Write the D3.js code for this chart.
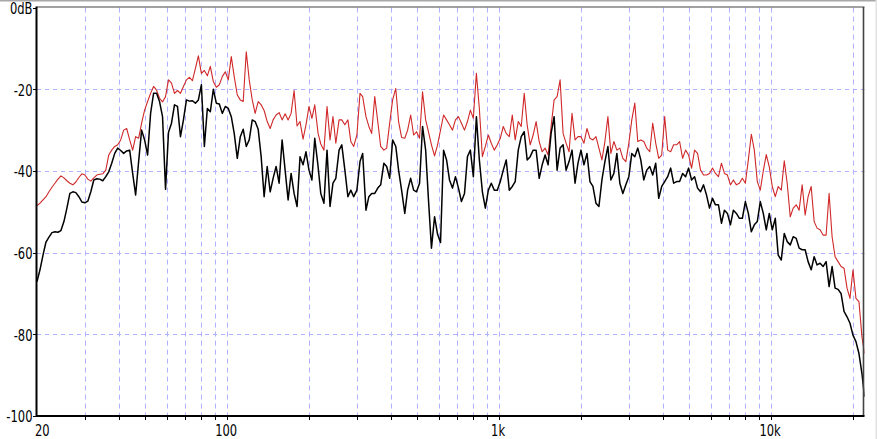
<!DOCTYPE html>
<html><head><meta charset="utf-8">
<script src="https://cdn.jsdelivr.net/npm/d3@7"></script>
<style>html,body{margin:0;padding:0;background:#fff;}svg{display:block;}</style>
</head><body>
<svg id="chart" width="877" height="439"></svg>
<script>
// Frequencies (Hz) of the plotted points
const freqs = [
20,20.51,21.04,21.58,22.13,22.70,23.28,23.88,24.49,25.12,25.76,26.42,27.10,27.79,28.51,29.24,29.99,30.75,31.54,32.35,33.18,34.03,34.90,35.80,36.71,37.65,38.62,39.61,40.62,41.66,42.73,43.83,44.95,46.10,47.28,48.49,49.74,51.01,52.32,53.66,55.03,56.44,57.89,59.37,60.89,62.45,64.05,65.69,67.37,69.10,70.87,72.68,74.55,76.46,78.41,80.42,82.48,84.59,86.76,88.98,91.26,93.60,96.00,98.48,101.0,103.6,106.2,109.0,111.8,114.6,117.6,120.6,123.7,126.8,130.1,133.4,136.8,140.4,144.0,147.6,151.4,155.3,159.3,163.4,167.6,171.9,176.3,180.8,185.4,190.2,195.0,
200,205,210,216,221,227,233,239,245,251,258,264,271,278,285,292,300,308,315,324,332,340,349,358,367,377,386,396,406,417,427,438,450,461,473,485,497,510,523,537,550,564,579,594,609,625,641,657,674,691,709,727,746,765,784,804,825,846,868,890,913,936,960,985,1010,1036,1062,1090,1118,1146,1176,1206,1237,1268,1301,1334,1368,1404,1440,1476,1514,1553,1593,1634,1676,1719,1763,1808,1854,1902,1950,
2000,2051,2104,2158,2213,2270,2328,2388,2449,2512,2576,2642,2710,2779,2851,2924,2999,3075,3154,3235,3318,3403,3490,3580,3671,3765,3862,3961,4062,4166,4273,4383,4495,4610,4728,4849,4974,5101,5232,5366,5503,5644,5789,5937,6089,6245,6405,6569,6737,6910,7087,7268,7455,7646,7841,8042,8248,8459,8676,8898,9126,9360,9600,9848,10100,10360,10620,10900,11180,11460,11760,12060,12370,12680,13010,13340,13680,14040,14400,14760,15140,15530,15930,16340,16760,17190,17630,18080,18540,19020,19500,
20000,20510,21040,21580,22050];

// Red trace (dB)
const redDb = [
-48.5,-47.9,-47.1,-46.3,-45.1,-44.0,-43.0,-42.0,-41.2,-41.7,
-42.4,-43.0,-43.4,-42.7,-41.6,-40.7,-41.0,-42.0,-42.5,-41.7,
-41.0,-40.8,-40.7,-39.8,-36.1,-34.9,-34.0,-33.6,-32.4,-30.0,
-29.6,-32.4,-34.9,-31.6,-32.0,-28.3,-25.1,-23.0,-21.0,-19.3,
-20.2,-22.2,-23.1,-21.8,-17.7,-18.5,-21.0,
-20.3,-21.0,-19.3,-17.7,-17.1,-17.9,-14.9,-11.8,-16.1,-15.4,
-16.7,-14.4,-18.1,-19.5,-18.9,-16.9,-15.7,-17.7,-12.0,-16.9,
-21.4,-22.6,-23.0,-10.8,-17.7,-22.6,-25.9,-23.0,-23.8,-25.2,
-27.9,-29.6,-27.5,-26.3,-25.7,-27.5,-26.0,-27.5,-25.9,-20.3,
-29.0,-27.9,-32.2,-28.7,-24.2,-27.1,
-23.8,-30.8,-33.4,-34.9,-24.2,-32.4,-26.7,-33.2,-27.5,-27.5,
-28.7,-27.5,-32.8,-34.0,-31.2,-21.0,-21.8,-26.7,-29.1,-30.8,
-21.8,-27.9,-34.0,-34.9,-34.4,-28.3,-22.6,-19.8,-27.9,-31.8,
-32.0,-30.0,-26.3,-31.2,-30.4,-32.0,-20.6,-27.5,-30.4,-33.6,
-36.3,-33.6,-30.0,-26.3,-27.5,-28.7,-30.0,
-27.5,-26.7,-28.3,-30.0,-27.9,-25.1,-27.1,-16.1,-24.7,-36.5,
-34.0,-31.2,-33.2,-34.9,-33.6,-32.0,-29.1,-30.8,-31.6,-26.3,
-32.4,-27.9,-29.1,-21.0,-28.7,-33.6,-31.2,-27.9,-32.8,-35.3,
-34.4,-36.1,-29.1,-22.6,-21.8,-17.7,-30.8,-33.2,-35.3,-25.9,
-32.4,-31.6,-31.6,-33.2,-29.6,-32.0,
-32.4,-31.6,-34.4,-37.3,-32.8,-26.7,-35.7,-32.8,-34.9,-34.4,
-36.9,-37.7,-33.2,-27.5,-23.4,-32.8,-32.4,-32.8,-34.4,-35.3,
-28.3,-33.2,-36.9,-36.1,-26.7,-34.9,-35.3,-33.6,-33.6,-32.8,
-36.9,-34.9,-36.1,-39.3,-34.9,-35.7,-39.8,-41.0,-41.0,-40.6,
-39.3,-40.6,-41.4,-38.1,-40.6,-41.0,-43.4,
-42.2,-43.4,-43.0,-41.8,-43.0,-37.3,-31.0,-34.9,-42.6,-44.7,
-40.0,-36.0,-39.0,-43.8,-46.3,-43.8,-44.7,-37.5,-43.0,-51.2,
-49.1,-48.3,-49.6,-43.4,-50.8,-46.3,-43.8,-52.4,-54.0,-54.4,
-55.7,-55.7,-45.5,-56.1,-61.0,-62.2,-63.4,-63.8,-68.7,-71.2,
-64.2,-71.2,-72.0,-80.6,-84.7];

// Black trace (dB)
const blackDb = [
-67.1,-64.2,-60.6,-57.4,-56.2,-55.1,-54.9,-55.0,-54.6,-52.4,
-49.1,-45.5,-45.1,-45.3,-46.3,-47.6,-47.8,-47.4,-45.1,-42.2,
-41.9,-42.0,-42.4,-41.4,-40.2,-38.1,-35.7,-34.4,-35.0,-35.7,
-35.1,-34.9,-40.6,-45.9,-37.7,-30.0,-32.4,-36.1,-25.9,-21.0,
-21.0,-23.0,-26.7,-44.5,-30.5,-28.3,-23.8,
-24.2,-31.6,-27.5,-22.6,-22.9,-22.8,-23.4,-22.6,-18.9,-34.0,
-24.7,-25.5,-20.0,-23.4,-23.6,-25.9,-24.2,-24.7,-26.7,-30.8,
-36.9,-31.6,-29.8,-34.0,-32.4,-27.5,-27.9,-29.8,-36.5,-46.3,
-38.9,-45.1,-41.8,-38.9,-43.0,-32.4,-39.8,-47.1,-40.6,-45.5,
-48.7,-36.5,-38.5,-35.3,-39.8,-42.2,
-32.0,-38.9,-45.5,-47.9,-34.9,-48.7,-43.0,-41.8,-34.9,-33.6,
-39.8,-46.3,-44.7,-46.3,-44.7,-37.7,-35.7,-49.6,-46.3,-45.5,
-45.5,-44.2,-43.4,-38.1,-38.9,-41.8,-32.4,-34.0,-39.8,-44.7,
-50.4,-44.7,-41.8,-44.7,-45.1,-43.0,-29.1,-34.9,-47.1,-58.9,
-51.2,-55.5,-57.5,-34.9,-37.3,-42.2,-44.2,
-41.4,-44.2,-47.5,-45.5,-36.5,-34.9,-41.4,-26.7,-37.3,-45.1,
-49.1,-44.7,-43.0,-44.7,-44.7,-42.6,-39.8,-37.3,-44.7,-43.8,
-42.6,-34.9,-31.6,-30.4,-37.3,-36.5,-34.9,-34.9,-41.8,-38.5,
-36.1,-38.5,-30.8,-26.7,-39.8,-34.4,-33.6,-39.8,-37.7,-34.9,
-43.0,-38.1,-34.9,-38.5,-35.7,-42.6,
-43.8,-47.9,-48.7,-42.2,-37.7,-34.0,-42.2,-40.6,-35.7,-43.0,
-45.5,-43.4,-41.4,-35.7,-36.5,-34.4,-37.3,-42.2,-39.8,-38.9,
-41.0,-38.1,-46.7,-43.8,-42.6,-41.4,-39.3,-43.0,-42.6,-42.6,
-40.6,-41.4,-39.3,-42.2,-41.4,-44.2,-45.1,-43.4,-45.9,-49.1,
-46.7,-48.3,-48.3,-52.8,-49.6,-50.4,-53.2,
-49.6,-50.4,-51.6,-51.6,-47.5,-50.4,-54.9,-53.2,-52.4,-47.5,
-50.4,-54.4,-50.4,-54.4,-51.6,-60.6,-61.8,-55.3,-57.3,-58.1,
-56.1,-56.5,-58.9,-59.3,-59.3,-62.2,-64.2,-61.0,-63.0,-62.6,
-63.4,-62.2,-68.3,-63.4,-68.7,-69.0,-70.0,-74.4,-75.7,-77.3,
-80.2,-81.8,-84.7,-89.6,-95.3];

const yTicks = [0, -20, -40, -60, -80, -100];
const yTickLabels = ["0dB", "-20", "-40", "-60", "-80", "-100"];
const xGridValues = [30,40,50,60,70,80,90,100,200,300,400,500,600,700,800,900,1000,2000,3000,4000,5000,6000,7000,8000,9000,10000,20000];
const xLabelValues = [20, 100, 1000, 10000];
const xLabels = ["20", "100", "1k", "10k"];

const svg = d3.select("#chart");
const L = 37, R = 864.5, T = 7.6, B = 416;
const x = d3.scaleLog().domain([20, 22050]).range([L, R]);
const y = d3.scaleLinear().domain([-100, 0]).range([B, T]);

// outer thin grey lines
svg.append("rect").attr("x",0).attr("y",0).attr("width",877).attr("height",1.5).attr("fill","#a8a8a8");
svg.append("rect").attr("x",875.5).attr("y",0).attr("width",1.5).attr("height",439).attr("fill","#e2e2e2");

const gridColor = "#b0b0ff";
// horizontal grid
svg.append("g").selectAll("line").data(yTicks.filter(v => v > -100 && v < 0)).join("line")
  .attr("x1", L).attr("x2", R).attr("y1", d => Math.round(y(d)) + 0.5).attr("y2", d => Math.round(y(d)) + 0.5)
  .attr("stroke", gridColor).attr("stroke-width", 1).attr("stroke-dasharray", "4,4");
// vertical grid
svg.append("g").selectAll("line").data(xGridValues).join("line")
  .attr("x1", d => Math.round(x(d)) + 0.5).attr("x2", d => Math.round(x(d)) + 0.5)
  .attr("y1", T).attr("y2", B)
  .attr("stroke", gridColor).attr("stroke-width", 1).attr("stroke-dasharray", "5,4");

// bottom tick marks
svg.append("g").selectAll("line").data(xGridValues).join("line")
  .attr("x1", d => Math.round(x(d)) + 0.5).attr("x2", d => Math.round(x(d)) + 0.5)
  .attr("y1", B).attr("y2", B + 4).attr("stroke", "#000").attr("stroke-width", 1);
// left tick marks
svg.append("g").selectAll("line").data(yTicks).join("line")
  .attr("x1", L - 4).attr("x2", L).attr("y1", d => Math.round(y(d)) + 0.5).attr("y2", d => Math.round(y(d)) + 0.5)
  .attr("stroke", "#000").attr("stroke-width", 1);

// clip
svg.append("clipPath").attr("id","clip").append("rect")
  .attr("x", L).attr("y", T - 1).attr("width", R - L).attr("height", B - T + 1);

const line = d3.line().x((d, i) => x(freqs[i])).y(d => y(d));
const plot = svg.append("g").attr("clip-path", "url(#clip)");
plot.append("path").attr("d", line(redDb)).attr("fill","none").attr("stroke","#d02828").attr("stroke-width",1.1).attr("stroke-linejoin","round");
plot.append("path").attr("d", line(blackDb)).attr("fill","none").attr("stroke","#000").attr("stroke-width",1.5).attr("stroke-linejoin","round");

// frame
svg.append("line").attr("x1", L).attr("x2", R).attr("y1", 7).attr("y2", 7).attr("stroke","#444").attr("stroke-width",1.2);
svg.append("line").attr("x1", 863.5).attr("x2", 863.5).attr("y1", 7).attr("y2", B).attr("stroke","#444").attr("stroke-width",1.6);
svg.append("line").attr("x1", 36.5).attr("x2", 36.5).attr("y1", 6.5).attr("y2", B + 1).attr("stroke","#000").attr("stroke-width",2);
svg.append("line").attr("x1", 36).attr("x2", 864.5).attr("y1", B).attr("y2", B).attr("stroke","#000").attr("stroke-width",2);

// labels
const font = "'DejaVu Sans', 'Liberation Sans', sans-serif";
svg.append("g").selectAll("text").data(yTicks).join("text")
  .attr("transform", d => `translate(32.5,${y(d) + 0.5}) scale(0.72,1)`)
  .attr("text-anchor","end").attr("dominant-baseline","central")
  .attr("font-family", font).attr("font-size", 16).attr("fill","#000")
  .text((d, i) => yTickLabels[i]);
svg.append("g").selectAll("text").data(xLabelValues).join("text")
  .attr("transform", (d, i) => i === 0 ? `translate(35,435.5) scale(0.72,1)` : `translate(${x(d) - 1},435.5) scale(0.72,1)`)
  .attr("text-anchor", (d, i) => i === 0 ? "start" : "middle")
  .attr("font-family", font).attr("font-size", 16).attr("fill","#000")
  .text((d, i) => xLabels[i]);
</script>
</body></html>
